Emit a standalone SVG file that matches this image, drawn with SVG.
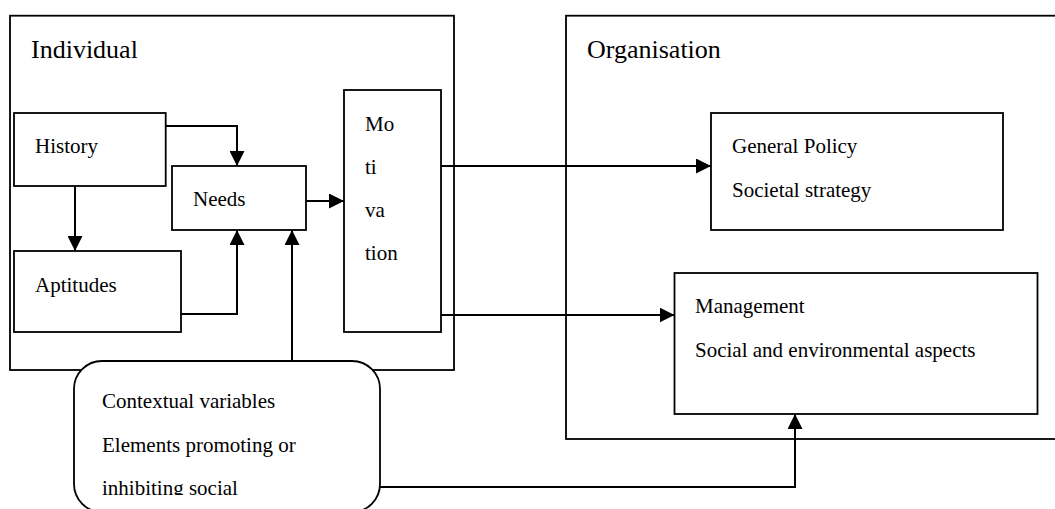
<svg xmlns="http://www.w3.org/2000/svg" width="1055" height="509" viewBox="0 0 1055 509">
<style>
.box{fill:#fff;stroke:#000;stroke-width:1.8}
.frame{fill:none;stroke:#000;stroke-width:1.8}
.t{font-family:"Liberation Serif","Times New Roman",serif;font-size:21px;fill:#000}
.title{font-family:"Liberation Serif","Times New Roman",serif;font-size:26px;fill:#000}
.c{fill:none;stroke:#000;stroke-width:2;marker-end:url(#ah)}
</style>
<defs>
<marker id="ah" markerUnits="userSpaceOnUse" markerWidth="15" markerHeight="15" refX="15" refY="7.5" orient="auto">
<path d="M0,0 L15,7.5 L0,15 Z" fill="#000"/>
</marker>
<clipPath id="ctxclip"><rect x="74" y="361" width="306" height="134"/></clipPath>
</defs>
<g id="individual">
<rect class="frame" x="10" y="15.7" width="444" height="354.3"/>
<text class="title" x="31" y="58">Individual</text>
</g>
<g id="organisation">
<rect class="frame" x="566" y="15.7" width="500" height="423.3"/>
<text class="title" x="587" y="58">Organisation</text>
</g>
<g id="history">
<rect class="box" x="14" y="113" width="151.7" height="73"/>
<text class="t" x="35" y="153">History</text>
</g>
<g id="needs">
<rect class="box" x="172" y="166" width="134" height="64"/>
<text class="t" x="193" y="206">Needs</text>
</g>
<g id="aptitudes">
<rect class="box" x="14" y="251" width="167" height="81"/>
<text class="t" x="35" y="292">Aptitudes</text>
</g>
<g id="motivation">
<rect class="box" x="344" y="90" width="97" height="242"/>
<text class="t" x="365" y="131">Mo</text>
<text class="t" x="365" y="174">ti</text>
<text class="t" x="365" y="217">va</text>
<text class="t" x="365" y="260">tion</text>
</g>
<g id="general-policy">
<rect class="box" x="711" y="113" width="292" height="117"/>
<text class="t" x="732" y="153">General Policy</text>
<text class="t" x="732" y="197">Societal strategy</text>
</g>
<g id="management">
<rect class="box" x="674.5" y="273" width="363" height="141"/>
<text class="t" x="695" y="313">Management</text>
<text class="t" x="695" y="357">Social and environmental aspects</text>
</g>
<g id="connectors">
<path class="c" d="M165.7,126 H237 V166"/>
<path class="c" d="M75,186 V251"/>
<path class="c" d="M181,314 H237 V230"/>
<path class="c" d="M292,361 V230"/>
<path class="c" d="M306,201 H344"/>
<path class="c" d="M441,166 H711"/>
<path class="c" d="M441,315 H674.5"/>
<path class="c" d="M380,487 H795 V414"/>
</g>
<g id="contextual">
<rect class="box" x="74" y="361" width="306" height="151" rx="28" ry="28"/>
<g clip-path="url(#ctxclip)">
<text class="t" x="102" y="408">Contextual variables</text>
<text class="t" x="102" y="452">Elements promoting or</text>
<text class="t" x="102" y="495">inhibiting social</text>
</g>
</g>
</svg>
